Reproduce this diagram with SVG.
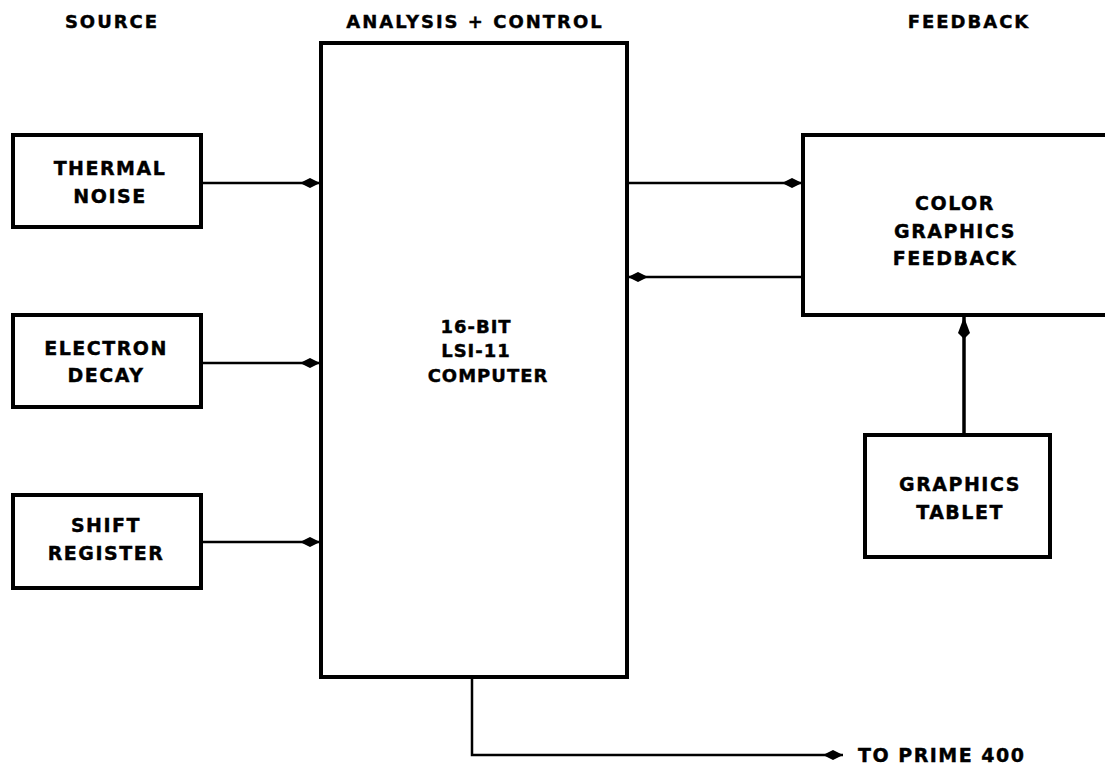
<svg xmlns="http://www.w3.org/2000/svg" width="1105" height="774" viewBox="0 0 1105 774">
<defs>
<style>
.box{fill:#fff;stroke:#000;stroke-width:4}
.t{font-family:"DejaVu Sans","Liberation Sans",sans-serif;font-weight:bold;font-size:19px;letter-spacing:1.5px;text-anchor:middle;fill:#000;stroke:#000;stroke-width:0.4}
.h{font-size:18px;letter-spacing:2px}
.c{fill:none;stroke:#000;stroke-width:2.5}
</style>
<marker id="ah" viewBox="0 0 20 12" refX="20" refY="6" markerWidth="20" markerHeight="12" markerUnits="userSpaceOnUse" orient="auto">
<path d="M0,6 L10,1 L20,6 L10,11 Z" fill="#000"/>
</marker>
<marker id="up" viewBox="0 0 22 14" refX="22" refY="7" markerWidth="22" markerHeight="14" markerUnits="userSpaceOnUse" orient="auto">
<path d="M0,7 L6,1 L22,7 L6,13 Z" fill="#000"/>
</marker>
</defs>
<rect width="1105" height="774" fill="#fff"/>
<g id="headers">
<text class="t h" x="112" y="28">SOURCE</text>
<text class="t h" x="475" y="28">ANALYSIS + CONTROL</text>
<text class="t h" x="969" y="28">FEEDBACK</text>
</g>
<g id="connectors">
<line class="c" x1="201" y1="183" x2="320" y2="183" marker-end="url(#ah)"/>
<line class="c" x1="201" y1="363" x2="320" y2="363" marker-end="url(#ah)"/>
<line class="c" x1="201" y1="542" x2="320" y2="542" marker-end="url(#ah)"/>
<line class="c" x1="627" y1="183" x2="802" y2="183" marker-end="url(#ah)"/>
<line class="c" x1="803" y1="277" x2="628" y2="277" marker-end="url(#ah)"/>
<line class="c" x1="964" y1="435" x2="964" y2="317" marker-end="url(#up)" style="stroke-width:3.5"/>
<polyline class="c" points="472,677 472,755 843,755" marker-end="url(#ah)"/>
<text class="t" x="858" y="762" style="text-anchor:start">TO PRIME 400</text>
</g>
<g id="computer">
<rect class="box" x="321" y="43" width="306" height="634"/>
<text class="t" style="font-size:18px;letter-spacing:1px" x="476" y="333">16-BIT</text>
<text class="t" style="font-size:18px;letter-spacing:1px" x="476" y="357">LSI-11</text>
<text class="t" style="font-size:18px;letter-spacing:1px" x="488" y="382">COMPUTER</text>
</g>
<g id="thermal">
<rect class="box" x="13" y="135" width="188" height="92"/>
<text class="t" x="110" y="175">THERMAL</text>
<text class="t" x="110" y="203">NOISE</text>
</g>
<g id="electron">
<rect class="box" x="13" y="315" width="188" height="92"/>
<text class="t" x="106" y="355">ELECTRON</text>
<text class="t" x="106" y="382">DECAY</text>
</g>
<g id="shift">
<rect class="box" x="13" y="495" width="188" height="93"/>
<text class="t" x="106" y="532">SHIFT</text>
<text class="t" x="106" y="560">REGISTER</text>
</g>
<g id="feedback">
<rect class="box" x="803" y="135" width="320" height="180"/>
<text class="t" x="955" y="210">COLOR</text>
<text class="t" x="955" y="238">GRAPHICS</text>
<text class="t" x="955" y="265">FEEDBACK</text>
</g>
<g id="tablet">
<rect class="box" x="865" y="435" width="185" height="122"/>
<text class="t" x="960" y="491">GRAPHICS</text>
<text class="t" x="960" y="519">TABLET</text>
</g>
</svg>
